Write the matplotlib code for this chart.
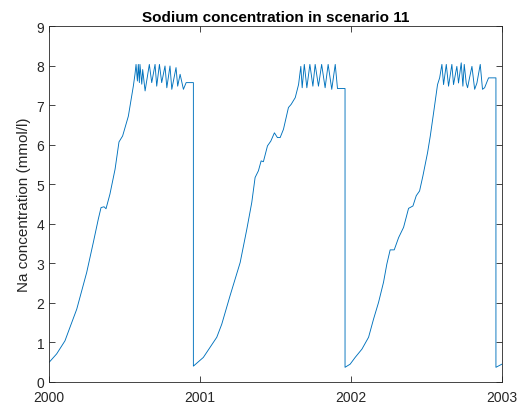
import matplotlib.pyplot as plt

# Datos (tiempo en años decimales, concentración en mmol/l)
time_year = [
    2000.000, 2000.049, 2000.104, 2000.137, 2000.182, 2000.248, 2000.292, 2000.325,
    2000.343, 2000.363, 2000.376, 2000.402, 2000.436, 2000.462, 2000.486, 2000.524,
    2000.557, 2000.568, 2000.575, 2000.584, 2000.590, 2000.597, 2000.601, 2000.613,
    2000.619, 2000.635, 2000.663, 2000.679, 2000.701, 2000.712, 2000.730, 2000.745,
    2000.767, 2000.779, 2000.800, 2000.812, 2000.840, 2000.851, 2000.867, 2000.889,
    2000.907, 2000.915, 2000.955, 2000.955, 2001.021, 2001.110, 2001.143, 2001.198,
    2001.265, 2001.309, 2001.342, 2001.364, 2001.386, 2001.404, 2001.419, 2001.446,
    2001.468, 2001.492, 2001.512, 2001.530, 2001.552, 2001.585, 2001.603, 2001.630,
    2001.652, 2001.667, 2001.676, 2001.690, 2001.707, 2001.727, 2001.747, 2001.762,
    2001.784, 2001.805, 2001.828, 2001.848, 2001.872, 2001.895, 2001.910, 2001.960,
    2001.960, 2001.994, 2002.027, 2002.072, 2002.116, 2002.149, 2002.182, 2002.215,
    2002.237, 2002.259, 2002.286, 2002.315, 2002.348, 2002.381, 2002.410, 2002.432,
    2002.454, 2002.476, 2002.507, 2002.525, 2002.547, 2002.573, 2002.587, 2002.602,
    2002.613, 2002.631, 2002.646, 2002.668, 2002.679, 2002.701, 2002.712, 2002.730,
    2002.741, 2002.750, 2002.763, 2002.772, 2002.785, 2002.801, 2002.819, 2002.834,
    2002.856, 2002.871, 2002.885, 2002.911, 2002.960, 2002.960, 2003.000,
]
na_conc = [
    0.50, 0.71, 1.04, 1.38, 1.84, 2.77, 3.53, 4.12,
    4.41, 4.43, 4.38, 4.75, 5.38, 6.07, 6.22, 6.72,
    7.48, 7.78, 8.03, 7.61, 8.03, 7.57, 8.03, 7.53,
    7.90, 7.36, 8.03, 7.57, 8.03, 7.48, 8.03, 7.57,
    7.99, 7.44, 7.99, 7.40, 7.95, 7.48, 7.78, 7.40,
    7.57, 7.57, 7.57, 0.40, 0.62, 1.13, 1.46, 2.18,
    3.02, 3.86, 4.54, 5.17, 5.34, 5.59, 5.57, 5.97,
    6.09, 6.30, 6.18, 6.18, 6.39, 6.94, 7.02, 7.19,
    7.52, 7.98, 7.44, 8.03, 7.44, 8.03, 7.48, 8.03,
    7.48, 8.03, 7.44, 8.03, 7.40, 8.03, 7.42, 7.42,
    0.37, 0.45, 0.62, 0.83, 1.13, 1.59, 2.01, 2.52,
    2.98, 3.34, 3.34, 3.65, 3.91, 4.39, 4.45, 4.71,
    4.83, 5.21, 5.80, 6.22, 6.81, 7.52, 7.69, 8.03,
    7.52, 8.03, 7.48, 8.03, 7.52, 7.98, 7.56, 8.07,
    7.48, 8.03, 7.56, 7.44, 7.69, 7.98, 7.40, 7.56,
    8.03, 7.40, 7.44, 7.69, 7.69, 0.37, 0.45,
]
year_ticks = [2000, 2001, 2002, 2003]
y_ticks = list(range(0, 10))

plt.rcParams['font.family'] = ['Liberation Sans', 'DejaVu Sans']

fig = plt.figure(figsize=(5.27, 4.10), dpi=100)
ax = fig.add_axes([0.0935, 0.066, 0.859, 0.868])

ax.plot(time_year, na_conc, color='#0072BD', linewidth=0.65)

ax.set_xlim(2000, 2003)
ax.set_ylim(0, 9)
ax.set_xticks(year_ticks)
ax.set_xticklabels([str(y) for y in year_ticks])
ax.set_yticks(y_ticks)

gris = '#262626'
for s in ax.spines.values():
    s.set_color(gris)
    s.set_linewidth(0.6)
ax.tick_params(direction='in', top=True, right=True, length=4, width=0.6,
               colors=gris, labelsize=10)
ax.tick_params(axis='x', pad=6)

ax.set_ylabel('Na concentration (mmol/l)', fontsize=11, color=gris)
ax.set_title('Sodium concentration in scenario 11', fontsize=11, fontweight='bold',
             color='black', pad=4)

plt.savefig('out.png', dpi=100)
